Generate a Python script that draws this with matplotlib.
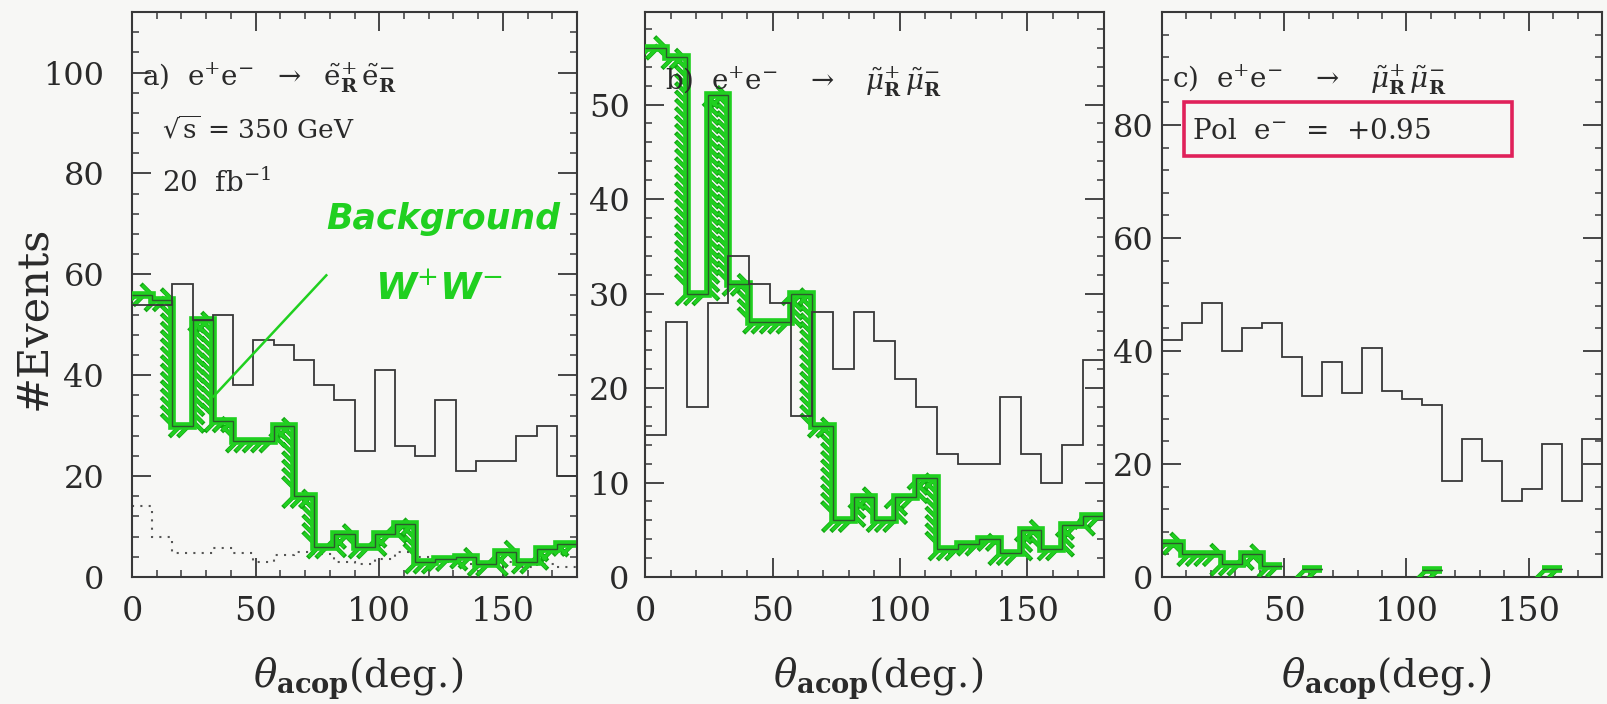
import numpy as np
import matplotlib
matplotlib.use("Agg")
import matplotlib.pyplot as plt
from matplotlib import patheffects as pe
from matplotlib.patches import Rectangle
from matplotlib.ticker import MultipleLocator, FixedLocator

plt.rcParams["font.family"] = ["DejaVu Serif"]
plt.rcParams["mathtext.fontset"] = "dejavuserif"

# ---- data: 22 bins of acoplanarity angle (0-180 deg) ----
bin_edges = np.linspace(0, 180, 23)

# a) selectron pairs (signal + background)
sel_total = [54, 54, 58, 51, 52, 38, 47, 46, 43, 38, 35, 25, 41, 26, 24, 35, 21, 23, 23, 28, 30, 20]
# W+W- background (unpolarised beams)
ww_bkg = [56, 55, 30, 51, 31, 27, 27, 30, 16, 6, 8.5, 6, 8.5, 10.5, 3, 3.5, 4, 2.5, 5, 3, 5.5, 6.5]
# remaining background in a)
other_bkg = [14, 8, 4.7, 4.7, 5.7, 4.7, 3, 4.3, 5, 4.5, 3, 2.5, 3.5, 5, 4, 3, 2.5, 2.5, 3, 2, 2.5, 2]
# b) smuon pairs (signal + background)
smu_total = [15, 27, 18, 29, 34, 31, 29, 17, 28, 22, 28, 25, 21, 18, 13, 12, 12, 19, 13, 10, 14, 23]
# c) smuon pairs with polarised electron beam
smu_pol_total = [42, 45, 48.5, 40, 44, 45, 39, 32, 38, 32.5, 40.5, 33, 31.5, 30.5, 17, 24.5,
                 20.5, 13.5, 15.5, 23.5, 13.5, 24.5]
ww_bkg_pol = [6, 4, 4, 2.3, 4, 2, 0, 1.5, 0, 0, 0, 0, 0, 1.2, 0, 0, 0, 0, 0, 1.5, 0, 0]

GREEN = "#20d020"
GREEN_DK = "#12a812"
DARK = "#383838"
PAPER = "#f7f7f5"

W, H = 1607, 704
fig = plt.figure(figsize=(W / 100, H / 100), dpi=100, facecolor=PAPER)

top_px, bot_px = 12, 577
spans = [(132, 577), (645, 1104), (1162, 1602)]
axes = []
for l, r in spans:
    ax = fig.add_axes([l / W, (H - bot_px) / H, (r - l) / W, (bot_px - top_px) / H])
    ax.set_facecolor(PAPER)
    axes.append(ax)

ylims = [112, 59.8, 100]
ymaj = [20, 10, 20]
ymin = [4, 2, 4]
ypads = [20, 11, 6]

for ax, ym, yj, yn, yp in zip(axes, ylims, ymaj, ymin, ypads):
    ax.set_xlim(0, 180)
    ax.set_ylim(0, ym)
    ax.xaxis.set_major_locator(FixedLocator([0, 50, 100, 150]))
    ax.xaxis.set_minor_locator(MultipleLocator(10))
    ax.yaxis.set_major_locator(FixedLocator(np.arange(0, ym - 1, yj)))
    ax.yaxis.set_minor_locator(MultipleLocator(yn))
    ax.tick_params(which="both", direction="in", top=True, right=True,
                   color=DARK, labelcolor="#2a2a2a")
    ax.tick_params(which="major", length=14, width=1.3)
    ax.tick_params(which="minor", length=5, width=1.1)
    ax.tick_params(axis="x", which="major", labelsize=24, pad=14)
    ax.tick_params(axis="y", which="major", labelsize=23, pad=yp)
    for s in ax.spines.values():
        s.set_linewidth(1.5)
        s.set_color(DARK)


def draw_hatched(ax, vals):
    """Background histogram drawn as an outline with a green hatched band inside."""
    vals = np.asarray(vals, float)
    n = len(vals)
    i = 0
    while i < n:
        if vals[i] <= 0:
            i += 1
            continue
        j = i
        while j < n and vals[j] > 0:
            j += 1
        ax.stairs(vals[i:j], bin_edges[i:j + 1], baseline=None, color="#2c5a2c",
                  lw=1.0, zorder=3,
                  path_effects=[pe.withTickedStroke(angle=-135, spacing=6.0, length=1.9,
                                                    linewidth=3.2, foreground=GREEN_DK),
                                pe.withTickedStroke(angle=-135, spacing=6.0, length=1.7,
                                                    linewidth=2.2, foreground=GREEN),
                                pe.Stroke(linewidth=5.5, foreground=GREEN),
                                pe.Normal()])
        i = j


# a)
ax = axes[0]
ax.stairs(sel_total, bin_edges, baseline=0, color=DARK, lw=1.3, zorder=4)
draw_hatched(ax, ww_bkg)
ax.stairs(other_bkg, bin_edges, baseline=None, color="#555555", lw=1.5,
          linestyle=(0, (1, 3)), zorder=2)

# b)
ax = axes[1]
ax.stairs(smu_total, bin_edges, baseline=0, color=DARK, lw=1.3, zorder=4)
draw_hatched(ax, ww_bkg)

# c)
ax = axes[2]
ax.stairs(smu_pol_total, bin_edges, baseline=0, color=DARK, lw=1.3, zorder=4)
draw_hatched(ax, ww_bkg_pol)

# panel captions
tkw = dict(fontsize=20, color="#2a2a2a", va="center", ha="left", zorder=6)
axes[0].text(0.022, 0.883,
             r"a)  e$^{+}$e$^{-}$  $\rightarrow$  $\tilde{\mathrm{e}}^{+}_{\mathbf{R}}\,\tilde{\mathrm{e}}^{-}_{\mathbf{R}}$",
             transform=axes[0].transAxes, **tkw)
axes[0].text(0.068, 0.791, r"$\sqrt{\mathrm{s}}$ = 350 GeV",
             transform=axes[0].transAxes, **dict(tkw, fontsize=19))
axes[0].text(0.068, 0.697, r"20  fb$^{-1}$", transform=axes[0].transAxes, **tkw)
axes[1].text(0.043, 0.876,
             r"b)  e$^{+}$e$^{-}$   $\rightarrow$   $\tilde{\mu}^{+}_{\mathbf{R}}\,\tilde{\mu}^{-}_{\mathbf{R}}$",
             transform=axes[1].transAxes, **tkw)
axes[2].text(0.023, 0.880,
             r"c)  e$^{+}$e$^{-}$   $\rightarrow$   $\tilde{\mu}^{+}_{\mathbf{R}}\,\tilde{\mu}^{-}_{\mathbf{R}}$",
             transform=axes[2].transAxes, **tkw)
axes[2].text(0.068, 0.789, r"Pol  e$^{-}$  =  +0.95", transform=axes[2].transAxes, **tkw)
axes[2].add_patch(Rectangle((0.050, 0.745), 0.745, 0.096, transform=axes[2].transAxes,
                            fill=False, edgecolor="#e0215a", lw=2.6, zorder=7))

# hand-written note in a)
hand = dict(color=GREEN, fontstyle="italic", fontweight="bold",
            family=["DejaVu Sans"], ha="center", va="center", zorder=6)
axes[0].text(126, 71, "Background", fontsize=25, **hand)
axes[0].text(124, 56.8, r"W$^{+}$W$^{-}$", fontsize=27, **hand)
axes[0].plot([78.6, 33], [59.8, 35.8], color=GREEN, lw=1.8, zorder=6)

# axis titles
fig.text(33 / W, 1 - 318 / H, "#Events", rotation=90, fontsize=31,
         ha="center", va="center", color="#2a2a2a")
for l, r in spans:
    fig.text(((l + r) / 2 + 4) / W, 1 - 679 / H,
             r"$\theta_{\mathbf{acop}}$(deg.)", fontsize=28,
             ha="center", va="center", color="#2a2a2a")

fig.savefig("out.png", dpi=100, facecolor=PAPER)
